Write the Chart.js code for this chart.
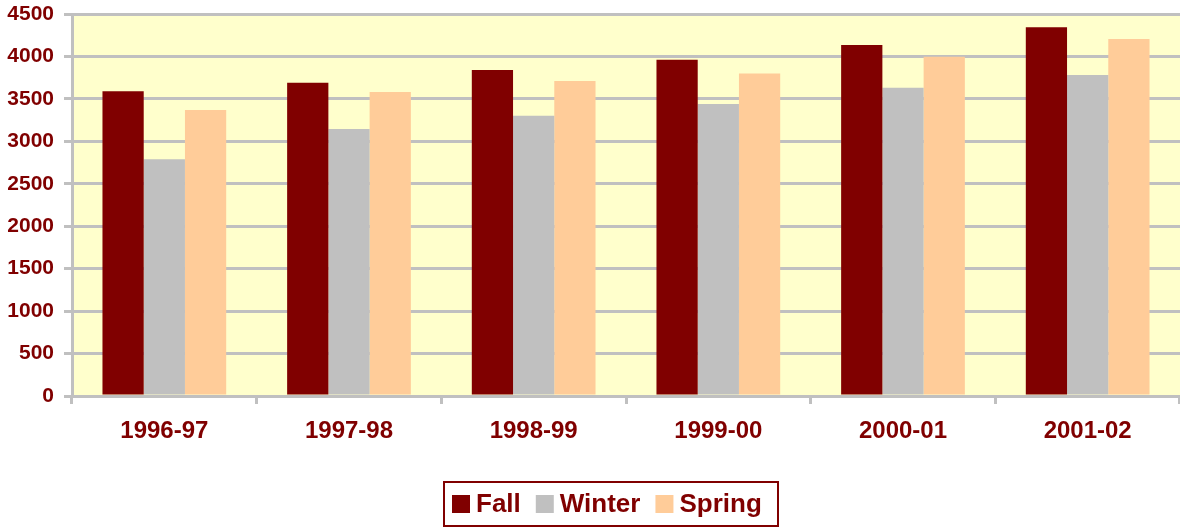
<!DOCTYPE html>
<html>
<head>
<meta charset="utf-8">
<script src="https://cdn.jsdelivr.net/npm/chart.js@4/dist/chart.umd.min.js"></script>
<style>
  html, body { margin: 0; padding: 0; background: #ffffff; }
  #wrap { width: 1180px; height: 527px; position: relative; }
</style>
</head>
<body>
<div id="wrap"><canvas id="chart"></canvas></div>
<script>
const years = ["1996-97", "1997-98", "1998-99", "1999-00", "2000-01", "2001-02"];
const fall = [3590, 3690, 3840, 3960, 4135, 4345];
const winter = [2790, 3145, 3300, 3440, 3630, 3780];
const spring = [3370, 3580, 3710, 3800, 3995, 4205];

const maroon = "#800000";
const gridGrey = "#c0c0c0";
const fontFamily = "'Liberation Sans', Arial, sans-serif";

// pale yellow plot background
const plotBackground = {
    id: "plotBackground",
    beforeDraw(chart) {
        const { ctx, chartArea } = chart;
        ctx.save();
        ctx.fillStyle = "#ffffcc";
        ctx.fillRect(chartArea.left, chartArea.top, chartArea.right - chartArea.left, chartArea.bottom - chartArea.top);
        ctx.restore();
    }
};

// boxed legend under the axis, drawn from the datasets
const boxedLegend = {
    id: "boxedLegend",
    afterDraw(chart) {
        const ctx = chart.ctx;
        ctx.save();
        ctx.strokeStyle = maroon;
        ctx.lineWidth = 2;
        ctx.strokeRect(444, 482, 334, 44);
        ctx.font = "bold 26px " + fontFamily;
        ctx.textBaseline = "alphabetic";
        let x = 452;
        chart.data.datasets.forEach(ds => {
            ctx.fillStyle = ds.backgroundColor;
            ctx.fillRect(x, 495, 18, 18);
            x += 24;
            ctx.fillStyle = maroon;
            ctx.fillText(ds.label, x, 512);
            x += ctx.measureText(ds.label).width + 15;
        });
        ctx.restore();
    }
};

new Chart(document.getElementById("chart"), {
    type: "bar",
    data: {
        labels: years,
        datasets: [
            { label: "Fall", data: fall, backgroundColor: maroon },
            { label: "Winter", data: winter, backgroundColor: gridGrey },
            { label: "Spring", data: spring, backgroundColor: "#ffcc99" }
        ]
    },
    options: {
        responsive: true,
        maintainAspectRatio: false,
        animation: false,
        datasets: {
            bar: { barPercentage: 1.0, categoryPercentage: 0.67 }
        },
        layout: { padding: { left: 6, right: 0, top: 0, bottom: 0 } },
        plugins: {
            tooltip: { enabled: false },
            legend: { display: false }
        },
        scales: {
            x: {
                grid: {
                    display: true,
                    drawOnChartArea: false,
                    drawTicks: true,
                    tickLength: 8,
                    color: gridGrey,
                    lineWidth: 3
                },
                border: { display: true, color: gridGrey, width: 3 },
                ticks: {
                    color: maroon,
                    padding: 13,
                    font: { family: fontFamily, size: 24, weight: "bold" }
                },
                afterFit(scale) { scale.height = 131; }
            },
            y: {
                min: 0,
                max: 4500,
                ticks: {
                    stepSize: 500,
                    color: maroon,
                    padding: 10,
                    font: { family: fontFamily, size: 21, weight: "bold" },
                    callback: (v) => String(v)
                },
                grid: {
                    color: gridGrey,
                    lineWidth: 3,
                    tickLength: 8
                },
                border: { display: true, color: gridGrey, width: 3 },
                afterFit(scale) {
                    scale.width = 66;
                    scale.paddingTop = 14;
                }
            }
        }
    },
    plugins: [plotBackground, boxedLegend]
});
</script>
</body>
</html>
